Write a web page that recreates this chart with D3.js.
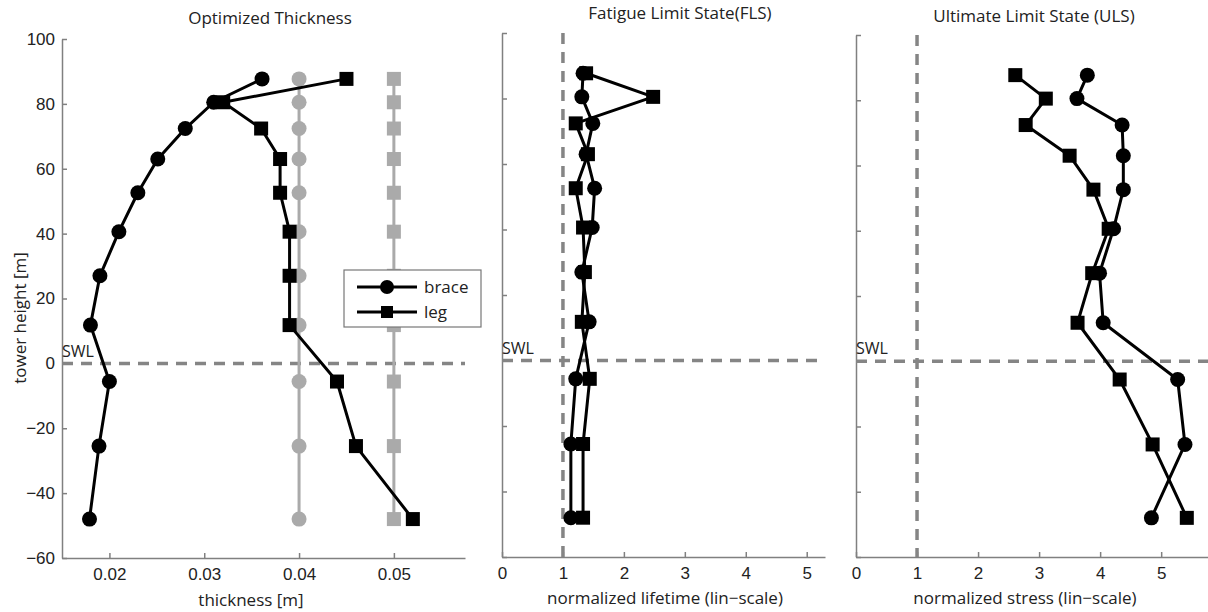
<!DOCTYPE html>
<html>
<head>
<meta charset="utf-8">
<script src="https://cdn.jsdelivr.net/npm/d3@7"></script>
<style>
  body { margin: 0; background: #fff; }
  svg { display: block; font-family: "Open Sans", sans-serif; }
</style>
</head>
<body>
<svg id="chart" width="1208" height="612"></svg>
<script>
// member heights [m]
const heights = [87.7, 80.5, 72.4, 63, 52.6, 40.6, 27, 11.8, -5.6, -25.5, -48];

// optimized thickness [m]
const thickBrace = [0.0361, 0.031, 0.028, 0.0251, 0.023, 0.021, 0.019, 0.018, 0.020, 0.0189, 0.0179];
const thickLeg = [0.045, 0.032, 0.036, 0.038, 0.038, 0.039, 0.039, 0.039, 0.044, 0.046, 0.052];
// initial thickness (gray)
const initBrace = [0.04, 0.04, 0.04, 0.04, 0.04, 0.04, 0.04, 0.04, 0.04, 0.04, 0.04];
const initLeg = [0.05, 0.05, 0.05, 0.05, 0.05, 0.05, 0.05, 0.05, 0.05, 0.05, 0.05];

// normalized lifetime (FLS)
const flsBrace = [1.33, 1.31, 1.49, 1.38, 1.52, 1.48, 1.31, 1.43, 1.21, 1.13, 1.13];
const flsLeg = [1.38, 2.48, 1.21, 1.41, 1.21, 1.33, 1.36, 1.31, 1.44, 1.33, 1.33];

// normalized stress (ULS)
const ulsBrace = [3.79, 3.62, 4.36, 4.38, 4.38, 4.22, 3.99, 4.05, 5.27, 5.39, 4.84];
const ulsLeg = [2.61, 3.11, 2.78, 3.50, 3.89, 4.14, 3.87, 3.63, 4.32, 4.86, 5.42];

const yTicks = [-60, -40, -20, 0, 20, 40, 60, 80, 100];
const thickTicks = [0.02, 0.03, 0.04, 0.05];
const normTicks = [0, 1, 2, 3, 4, 5];

const svg = d3.select("#chart");
const black = "#000";
const gray = "#aaaaaa";
const axisGray = "#808080";
const dashGray = "#858585";
const textCol = "#222";

const panels = [
  {
    title: "Optimized Thickness", titleX: 270, titleY: 24,
    xlabel: "thickness [m]", xlabelX: 251, xlabelY: 606,
    left: 62, right: 465, top: 39, bottom: 558,
    xDomain: [0.015, 0.0575], xTicks: thickTicks, xFmt: d3.format(".2f"),
    yLabels: true, vline: null, swlY: 357,
    series: [
      { vals: initBrace, color: gray, shape: "circle" },
      { vals: initLeg, color: gray, shape: "square" },
      { vals: thickBrace, color: black, shape: "circle" },
      { vals: thickLeg, color: black, shape: "square" }
    ]
  },
  {
    title: "Fatigue Limit State(FLS)", titleX: 680, titleY: 19,
    xlabel: "normalized lifetime (lin\u2212scale)", xlabelX: 665, xlabelY: 604,
    left: 502, right: 825, top: 33, bottom: 557,
    xDomain: [0, 5.3], xTicks: normTicks, xFmt: d3.format("d"),
    yLabels: false, vline: 1, swlY: 354,
    series: [
      { vals: flsBrace, color: black, shape: "circle" },
      { vals: flsLeg, color: black, shape: "square" }
    ]
  },
  {
    title: "Ultimate Limit State (ULS)", titleX: 1034, titleY: 22,
    xlabel: "normalized stress (lin\u2212scale)", xlabelX: 1025, xlabelY: 604,
    left: 856, right: 1210, top: 35, bottom: 557,
    xDomain: [0, 5.8], xTicks: normTicks, xFmt: d3.format("d"),
    yLabels: false, vline: 1, swlY: 354,
    series: [
      { vals: ulsBrace, color: black, shape: "circle" },
      { vals: ulsLeg, color: black, shape: "square" }
    ]
  }
];

const R = 7.5, SQ = 14;

function drawMarkers(g, pts, shape, color, r, sq) {
  if (shape === "circle") {
    g.selectAll(null).data(pts).enter().append("circle")
      .attr("cx", d => d[0]).attr("cy", d => d[1]).attr("r", r)
      .attr("fill", color);
  } else {
    g.selectAll(null).data(pts).enter().append("rect")
      .attr("x", d => d[0] - sq / 2).attr("y", d => d[1] - sq / 2)
      .attr("width", sq).attr("height", sq)
      .attr("fill", color);
  }
}

panels.forEach(p => {
  const x = d3.scaleLinear().domain(p.xDomain).range([p.left, p.right]);
  const y = d3.scaleLinear().domain([-60, 100]).range([p.bottom, p.top]);
  const g = svg.append("g");

  // axes, ticks pointing inward
  const yAxis = d3.axisLeft(y).tickValues(yTicks).tickSize(-5).tickSizeOuter(0).tickPadding(7);
  if (!p.yLabels) yAxis.tickFormat("");
  const ya = g.append("g").attr("transform", `translate(${p.left},0)`).call(yAxis);
  const xAxis = d3.axisBottom(x).tickValues(p.xTicks).tickFormat(p.xFmt)
    .tickSize(-5).tickSizeOuter(0).tickPadding(10);
  const xa = g.append("g").attr("transform", `translate(0,${p.bottom})`).call(xAxis);
  [ya, xa].forEach(a => {
    a.select(".domain").attr("stroke", axisGray).attr("stroke-width", 1.5);
    a.selectAll(".tick line").attr("stroke", axisGray).attr("stroke-width", 1.5);
    a.selectAll(".tick text").attr("fill", textCol).style("font-size", "17px");
  });

  // reference lines (SWL and unit line)
  g.append("line")
    .attr("x1", p.left).attr("x2", p.right)
    .attr("y1", y(0)).attr("y2", y(0))
    .attr("stroke", dashGray).attr("stroke-width", 3.5).attr("stroke-dasharray", "11,8");
  if (p.vline !== null) {
    g.append("line")
      .attr("x1", x(p.vline)).attr("x2", x(p.vline))
      .attr("y1", p.top).attr("y2", p.bottom)
      .attr("stroke", dashGray).attr("stroke-width", 3.5).attr("stroke-dasharray", "11,8");
  }
  g.append("text").attr("x", p.left).attr("y", p.swlY)
    .attr("fill", textCol).style("font-size", "16px").text("SWL");

  // series
  const line = d3.line().x(d => d[0]).y(d => d[1]);
  p.series.forEach(s => {
    const pts = s.vals.map((v, i) => [x(v), y(heights[i])]);
    g.append("path").attr("d", line(pts))
      .attr("fill", "none").attr("stroke", s.color).attr("stroke-width", 3)
      .attr("stroke-linejoin", "round");
    drawMarkers(g, pts, s.shape, s.color, R, SQ);
  });

  // titles
  g.append("text").attr("x", p.titleX).attr("y", p.titleY)
    .attr("text-anchor", "middle").attr("fill", textCol).style("font-size", "17px")
    .text(p.title);
  g.append("text").attr("x", p.xlabelX).attr("y", p.xlabelY)
    .attr("text-anchor", "middle").attr("fill", textCol).style("font-size", "17px")
    .text(p.xlabel);
});

// y label
svg.append("text")
  .attr("transform", "translate(26,318) rotate(-90)")
  .attr("text-anchor", "middle").attr("fill", textCol).style("font-size", "17px")
  .text("tower height [m]");

// legend
const leg = svg.append("g");
leg.append("rect").attr("x", 344).attr("y", 270).attr("width", 137).attr("height", 57)
  .attr("fill", "#fff").attr("stroke", "#777").attr("stroke-width", 1.2);
const legendItems = [
  { label: "brace", shape: "circle", y: 287 },
  { label: "leg", shape: "square", y: 312 }
];
legendItems.forEach(it => {
  leg.append("line").attr("x1", 357).attr("x2", 417).attr("y1", it.y).attr("y2", it.y)
    .attr("stroke", black).attr("stroke-width", 3);
  drawMarkers(leg, [[387, it.y]], it.shape, black, 7, 12);
  leg.append("text").attr("x", 424).attr("y", it.y + 6)
    .attr("fill", textCol).style("font-size", "17px").text(it.label);
});
</script>
</body>
</html>
